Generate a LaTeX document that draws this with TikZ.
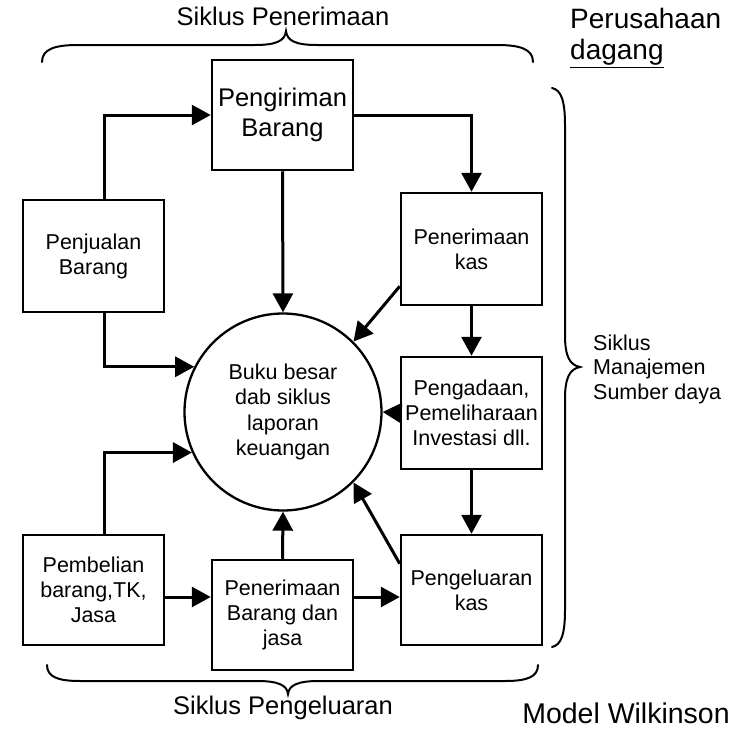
\documentclass[tikz,border=0pt]{standalone}
\usepackage{fontspec}
\setmainfont{Liberation Sans}
\usetikzlibrary{arrows.meta}
\begin{document}
\begin{tikzpicture}[x=1pt,y=-1pt,
 box/.style={draw,line width=2.5pt,minimum width=141pt,minimum height=111pt,inner sep=0pt,align=center,font=\fontsize{21.5}{25}\selectfont},
 arr/.style={line width=3pt,-{Triangle[length=19pt,width=20pt]}},
 bracepath/.style={line width=2pt,line cap=round},
 lbl/.style={inner sep=0pt,align=left,font=\fontsize{21.5}{24.5}\selectfont}]
\useasboundingbox (0,0) rectangle (740,734);
% nodes
\node[box,minimum height=110pt,font=\fontsize{25.5}{30}\selectfont] (png) at (282.5,115) {Pengiriman\\Barang};
\node[box,minimum height=112pt] (pjl) at (93.5,256) {Penjualan\\Barang};
\node[box,minimum height=112pt] (pkas) at (471.5,249) {Penerimaan\\kas};
\node[box,minimum height=112pt] (pgd) at (471.5,413) {Pengadaan,\\Pemeliharaan\\Investasi dll.};
\node[box,minimum height=110pt] (pgl) at (471.5,590) {Pengeluaran\\kas};
\node[box,minimum height=110pt] (pmb) at (93.5,590) {Pembelian\\barang,TK,\\Jasa};
\node[box,minimum height=110pt] (pbj) at (282.5,615) {Penerimaan\\Barang dan\\jasa};
\node[draw,circle,line width=2.3pt,minimum size=197pt,inner sep=0pt,align=center,font=\fontsize{21.5}{25.5}\selectfont] (bb) at (283,412) {Buku besar\\dab siklus\\laporan\\keuangan};
% connectors
\draw[arr] ([xshift=11pt]pjl.north) |- (png.west);
\draw[arr] ([xshift=11pt]pjl.south) |- (bb.153);
\draw[arr] ([xshift=11pt]pmb.north) |- (bb.204);
\draw[arr] (png.east) -| (pkas.north);
\draw[arr] (png.south) -- (bb.north);
\draw[arr] ([yshift=20pt]pkas.south west) -- (bb.north east);
\draw[arr] (pkas.south) -- (pgd.north);
\draw[arr] (pgd.west) -- (bb.east);
\draw[arr] (pgd.south) -- (pgl.north);
\draw[arr] ([yshift=-30pt]pgl.north west) -- (bb.south east);
\draw[arr] ([yshift=-7pt]pmb.east) -- ([yshift=-7pt]pmb.east -| pbj.west);
\draw[arr] ([yshift=18pt]pbj.east) -- ([yshift=18pt]pbj.east -| pgl.west);
\draw[arr] (pbj.north) -- (bb.south);
% braces
\draw[bracepath] (42,62) .. controls (42,49) and (55,45) .. (78,45) -- (255,45)
  .. controls (276,45) and (285,41) .. (286,31)
  .. controls (287,41) and (296,45) .. (317,45) -- (497,45)
  .. controls (520,45) and (533,49) .. (533,62);
\draw[bracepath] (47,665) .. controls (47,677) and (58,681) .. (80,681) -- (257,681)
  .. controls (278,681) and (287,685) .. (288,694)
  .. controls (289,685) and (298,681) .. (319,681) -- (505,681)
  .. controls (527,681) and (538,677) .. (538,665);
\draw[bracepath] (552,88) .. controls (561,90) and (565,100) .. (565,125) -- (565,335)
  .. controls (565,357) and (570,365) .. (580,367)
  .. controls (570,369) and (565,377) .. (565,399) -- (565,610)
  .. controls (565,635) and (561,645) .. (552,647);
% texts
\node[inner sep=0pt,font=\fontsize{25.5}{30}\selectfont] (t1) at (283,16) {Siklus Penerimaan};
\node[inner sep=0pt,font=\fontsize{25.5}{30}\selectfont] (t2) at (283,708) {Siklus Pengeluaran};
\node[inner sep=0pt,anchor=west,align=left,font=\fontsize{28}{31}\selectfont] (t3) at (570,38) {Perusahaan\\\underline{dagang}};
\node[inner sep=0pt,font=\fontsize{28.5}{30}\selectfont] (t4) at (626,713) {Model Wilkinson};
\node[lbl,anchor=west] (t5) at (593,369) {Siklus\\Manajemen\\Sumber daya};
\end{tikzpicture}
\end{document}
